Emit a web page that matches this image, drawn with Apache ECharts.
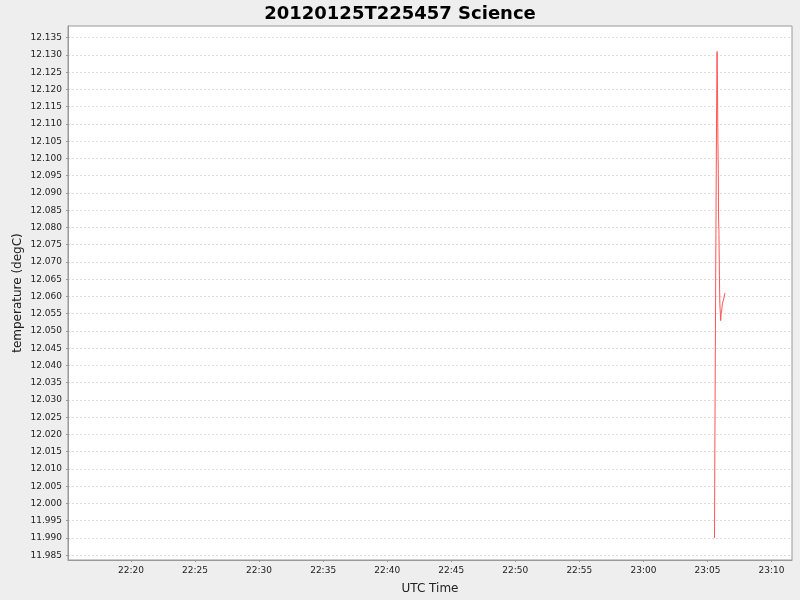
<!DOCTYPE html>
<html>
<head>
<meta charset="utf-8">
<script src="https://cdn.jsdelivr.net/npm/echarts@6/dist/echarts.min.js"></script>
<style>
  html, body { margin: 0; padding: 0; background: #eeeeee; }
  #chart { width: 800px; height: 600px; }
</style>
</head>
<body>
<div id="chart"></div>
<script>
const timeLabels = ["22:20", "22:25", "22:30", "22:35", "22:40", "22:45", "22:50", "22:55", "23:00", "23:05", "23:10"];
const tempLabels = [
  "11.985", "11.990", "11.995", "12.000", "12.005", "12.010", "12.015", "12.020",
  "12.025", "12.030", "12.035", "12.040", "12.045", "12.050", "12.055", "12.060",
  "12.065", "12.070", "12.075", "12.080", "12.085", "12.090", "12.095", "12.100",
  "12.105", "12.110", "12.115", "12.120", "12.125", "12.130", "12.135"
];
const sampleTimes = [
  "23:05:33", "23:05:34", "23:05:35", "23:05:37", "23:05:39", "23:05:41", "23:05:43",
  "23:05:45", "23:05:47", "23:05:49", "23:05:51", "23:05:52", "23:05:54", "23:05:56",
  "23:05:58", "23:06:02", "23:06:04", "23:06:07", "23:06:10", "23:06:15", "23:06:22"
];
const tempValues = [
  11.990, 12.005, 12.020, 12.045, 12.070, 12.095, 12.115,
  12.131, 12.120, 12.105, 12.095, 12.083, 12.078, 12.066,
  12.058, 12.053, 12.055, 12.056, 12.058, 12.059, 12.061
];

// seconds of the day from "hh:mm[:ss]"
function toSec(s) {
  const p = s.split(":").map(Number);
  return p[0] * 3600 + p[1] * 60 + (p[2] || 0);
}
function fmtTime(v) {
  const h = Math.floor(v / 3600), m = Math.round((v % 3600) / 60);
  return String(h).padStart(2, "0") + ":" + String(m).padStart(2, "0");
}

const xTicks = timeLabels.map(toSec);
const yTicks = tempLabels.map(Number);
const seriesData = sampleTimes.map((t, i) => [toSec(t), tempValues[i]]);

const chart = echarts.init(document.getElementById("chart"));
chart.setOption({
  animation: false,
  backgroundColor: "#eeeeee",
  title: {
    text: "20120125T225457 Science",
    left: "center",
    top: 0,
    textStyle: { color: "#000000", fontSize: 18, fontWeight: "bold", fontFamily: "DejaVu Sans" },
  },
  grid: {
    left: 68,
    right: 8,
    top: 26,
    bottom: 40,
    show: true,
    backgroundColor: "#ffffff",
    borderColor: "#999999",
    borderWidth: 1,
  },
  xAxis: {
    type: "value",
    min: toSec("22:15:05"),
    max: toSec("23:11:36"),
    name: "UTC Time",
    nameLocation: "middle",
    nameGap: 23,
    nameMoveOverlap: false,
    nameTextStyle: { color: "#222222", fontSize: 12, fontFamily: "DejaVu Sans" },
    axisLine: { lineStyle: { color: "#999999" } },
    axisTick: { customValues: xTicks, length: 2, lineStyle: { color: "#999999" } },
    axisLabel: {
      customValues: xTicks,
      formatter: fmtTime,
      color: "#222222",
      fontSize: 9,
      fontFamily: "DejaVu Sans",
      margin: 6,
    },
    splitLine: { show: false },
  },
  yAxis: {
    type: "value",
    min: 11.9836,
    max: 12.1384,
    name: "temperature (degC)",
    nameLocation: "middle",
    nameGap: 44,
    nameMoveOverlap: false,
    nameTextStyle: { color: "#222222", fontSize: 12, fontFamily: "DejaVu Sans" },
    axisLine: { show: true, lineStyle: { color: "#999999" } },
    axisTick: { show: true, customValues: yTicks, length: 2, lineStyle: { color: "#999999" } },
    axisLabel: {
      customValues: yTicks,
      formatter: (v) => v.toFixed(3),
      color: "#222222",
      fontSize: 9,
      fontFamily: "DejaVu Sans",
      margin: 6,
    },
    splitLine: { show: true, lineStyle: { color: "#dddddd", type: [2, 2] } },
  },
  series: [
    {
      type: "line",
      data: seriesData,
      showSymbol: false,
      lineStyle: { width: 1, color: "#ff5555" },
    },
  ],
});
</script>
</body>
</html>
